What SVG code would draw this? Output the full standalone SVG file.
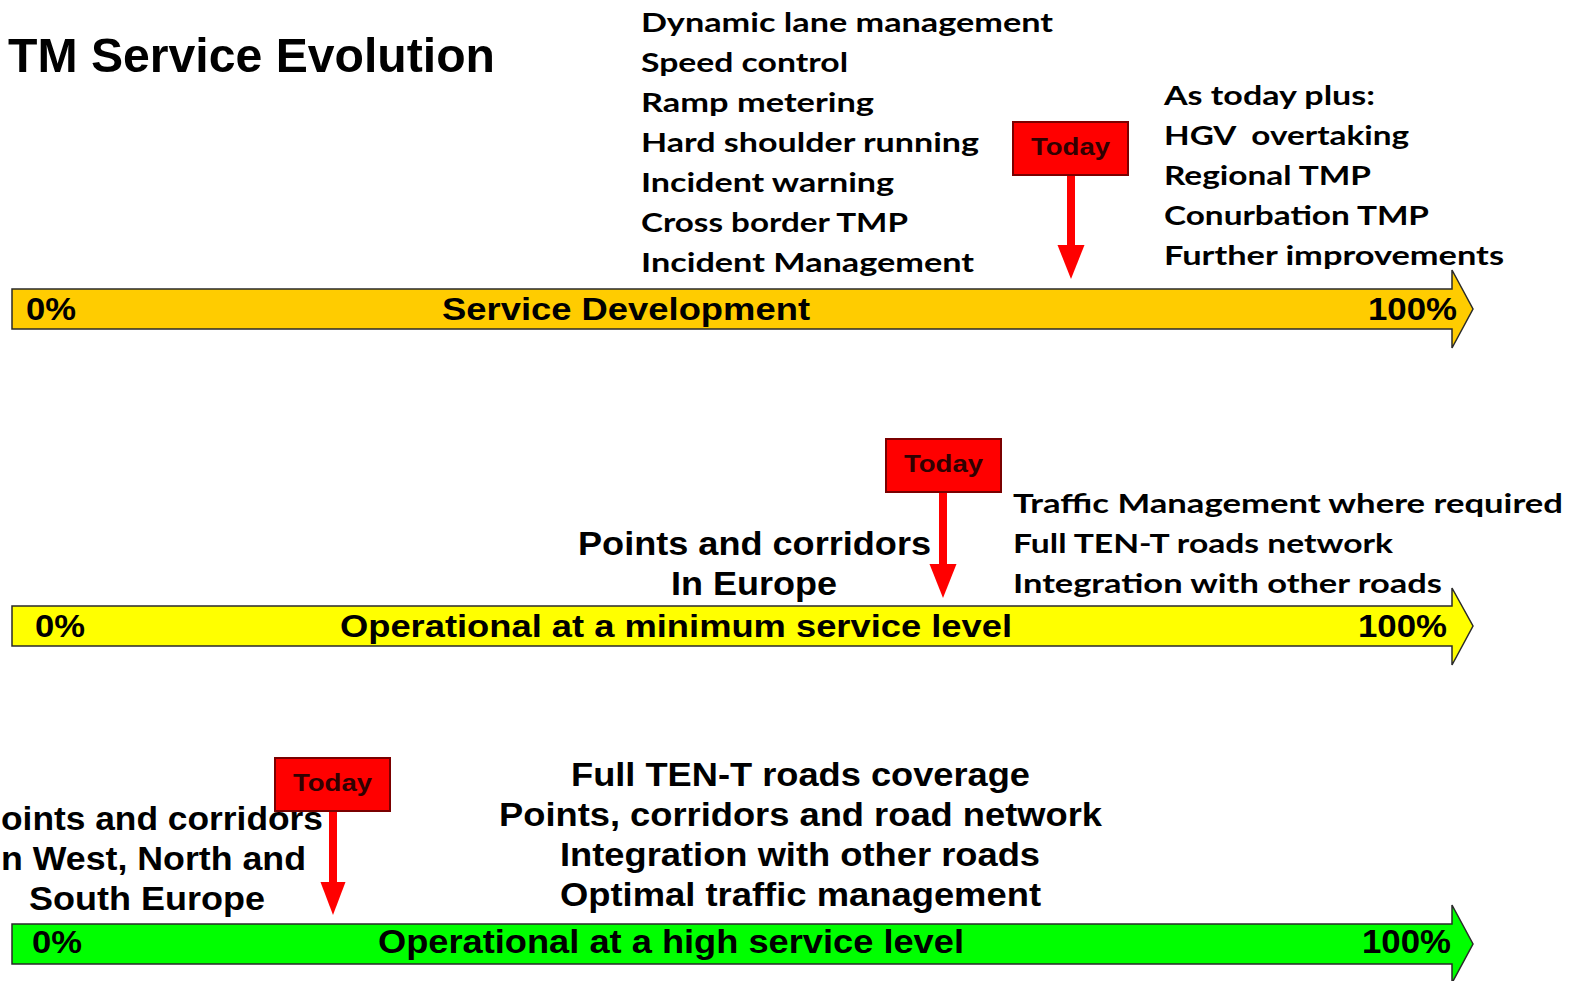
<svg xmlns="http://www.w3.org/2000/svg" width="1575" height="981" viewBox="0 0 1575 981">
<style>
.bar{stroke:#2a2a2a;stroke-width:1.5}
.ab{font-family:"Liberation Sans",Arial,sans-serif;font-weight:bold;fill:#000}
.cal{font-family:Lato,"Open Sans",sans-serif;font-weight:bold;font-size:27px;fill:#000}
.today{fill:#ff0000;stroke:#7a0000;stroke-width:2}
.tt{font-family:"Liberation Sans",Arial,sans-serif;font-weight:bold;font-size:24px;fill:#300000}
.stem{stroke:#ff0000;stroke-width:8;fill:none}
.head{fill:#ff0000}
</style>
<rect width="1575" height="981" fill="#ffffff"/>
<g id="title">
<text class="ab" x="8" y="72" font-size="48" textLength="487" lengthAdjust="spacingAndGlyphs">TM Service Evolution</text>
</g>

<g id="bar-development">
<polygon class="bar" fill="#ffcc00" points="12,289 1452,289 1452,270 1473,309 1452,348 1452,329 12,329"/>
<text class="ab" x="26" y="320" font-size="32" textLength="50" lengthAdjust="spacingAndGlyphs">0%</text>
<text class="ab" x="442" y="320" font-size="32" textLength="368" lengthAdjust="spacingAndGlyphs">Service Development</text>
<text class="ab" x="1368" y="320" font-size="32" textLength="89" lengthAdjust="spacingAndGlyphs">100%</text>
</g>

<g id="list-top-left" class="cal">
<text x="641" y="32" textLength="412" lengthAdjust="spacingAndGlyphs">Dynamic lane management</text>
<text x="641" y="72" textLength="207" lengthAdjust="spacingAndGlyphs">Speed control</text>
<text x="641" y="112" textLength="233" lengthAdjust="spacingAndGlyphs">Ramp metering</text>
<text x="641" y="152" textLength="338" lengthAdjust="spacingAndGlyphs">Hard shoulder running</text>
<text x="641" y="192" textLength="253" lengthAdjust="spacingAndGlyphs">Incident warning</text>
<text x="641" y="232" textLength="267" lengthAdjust="spacingAndGlyphs">Cross border TMP</text>
<text x="641" y="272" textLength="333" lengthAdjust="spacingAndGlyphs">Incident Management</text>
</g>

<g id="list-top-right" class="cal">
<text x="1164" y="105" textLength="211" lengthAdjust="spacingAndGlyphs">As today plus:</text>
<text x="1164" y="145" textLength="245" lengthAdjust="spacingAndGlyphs" xml:space="preserve">HGV  overtaking</text>
<text x="1164" y="185" textLength="207" lengthAdjust="spacingAndGlyphs">Regional TMP</text>
<text x="1164" y="225" textLength="265" lengthAdjust="spacingAndGlyphs">Conurbation TMP</text>
<text x="1164" y="265" textLength="340" lengthAdjust="spacingAndGlyphs">Further improvements</text>
</g>

<g id="today-1">
<rect class="today" x="1013" y="122" width="115" height="53"/>
<text class="tt" x="1031" y="155" textLength="79" lengthAdjust="spacingAndGlyphs">Today</text>
</g>

<g id="bar-minimum">
<polygon class="bar" fill="#ffff00" points="12,606 1452,606 1452,588 1473,626 1452,665 1452,646 12,646"/>
<text class="ab" x="35" y="637" font-size="32" textLength="50" lengthAdjust="spacingAndGlyphs">0%</text>
<text class="ab" x="340" y="637" font-size="32" textLength="672" lengthAdjust="spacingAndGlyphs">Operational at a minimum service level</text>
<text class="ab" x="1358" y="637" font-size="32" textLength="89" lengthAdjust="spacingAndGlyphs">100%</text>
</g>

<g id="label-middle-left">
<text class="ab" x="578" y="555" font-size="33" textLength="353" lengthAdjust="spacingAndGlyphs">Points and corridors</text>
<text class="ab" x="671" y="595" font-size="33" textLength="166" lengthAdjust="spacingAndGlyphs">In Europe</text>
</g>

<g id="list-middle-right" class="cal">
<text x="1013" y="513" textLength="550" lengthAdjust="spacingAndGlyphs">Traffic Management where required</text>
<text x="1013" y="553" textLength="380" lengthAdjust="spacingAndGlyphs">Full TEN-T roads network</text>
<text x="1013" y="593" textLength="429" lengthAdjust="spacingAndGlyphs">Integration with other roads</text>
</g>

<g id="today-2">
<rect class="today" x="886" y="439" width="115" height="53"/>
<text class="tt" x="904" y="472" textLength="79" lengthAdjust="spacingAndGlyphs">Today</text>
</g>

<g id="bar-high">
<polygon class="bar" fill="#00ff00" points="12,924 1452,924 1452,905 1473,944 1452,983 1452,964 12,964"/>
<text class="ab" x="32" y="953" font-size="32" textLength="50" lengthAdjust="spacingAndGlyphs">0%</text>
<text class="ab" x="378" y="953" font-size="33" textLength="586" lengthAdjust="spacingAndGlyphs">Operational at a high service level</text>
<text class="ab" x="1362" y="953" font-size="33" textLength="89" lengthAdjust="spacingAndGlyphs">100%</text>
</g>

<g id="label-bottom-left">
<text class="ab" x="1" y="830" font-size="33" textLength="322" lengthAdjust="spacingAndGlyphs">oints and corridors</text>
<text class="ab" x="1" y="870" font-size="33" textLength="305" lengthAdjust="spacingAndGlyphs">n West, North and</text>
<text class="ab" x="29" y="910" font-size="33" textLength="236" lengthAdjust="spacingAndGlyphs">South Europe</text>
</g>

<g id="list-bottom-center">
<text class="ab" x="571" y="786" font-size="34" textLength="459" lengthAdjust="spacingAndGlyphs">Full TEN-T roads coverage</text>
<text class="ab" x="499" y="826" font-size="34" textLength="603" lengthAdjust="spacingAndGlyphs">Points, corridors and road network</text>
<text class="ab" x="560" y="866" font-size="34" textLength="480" lengthAdjust="spacingAndGlyphs">Integration with other roads</text>
<text class="ab" x="560" y="906" font-size="34" textLength="481" lengthAdjust="spacingAndGlyphs">Optimal traffic management</text>
</g>

<g id="today-3">
<rect class="today" x="275" y="758" width="115" height="53"/>
<text class="tt" x="293" y="791" textLength="79" lengthAdjust="spacingAndGlyphs">Today</text>
</g>

<g id="connectors">
<line class="stem" x1="1071" y1="176" x2="1071" y2="246"/>
<polygon class="head" points="1057.5,245 1084.5,245 1071,279"/>
<line class="stem" x1="943" y1="493" x2="943" y2="565"/>
<polygon class="head" points="929.5,564 956.5,564 943,598"/>
<line class="stem" x1="333" y1="812" x2="333" y2="883"/>
<polygon class="head" points="320.5,882 345.5,882 333,915"/>
</g>
</svg>
